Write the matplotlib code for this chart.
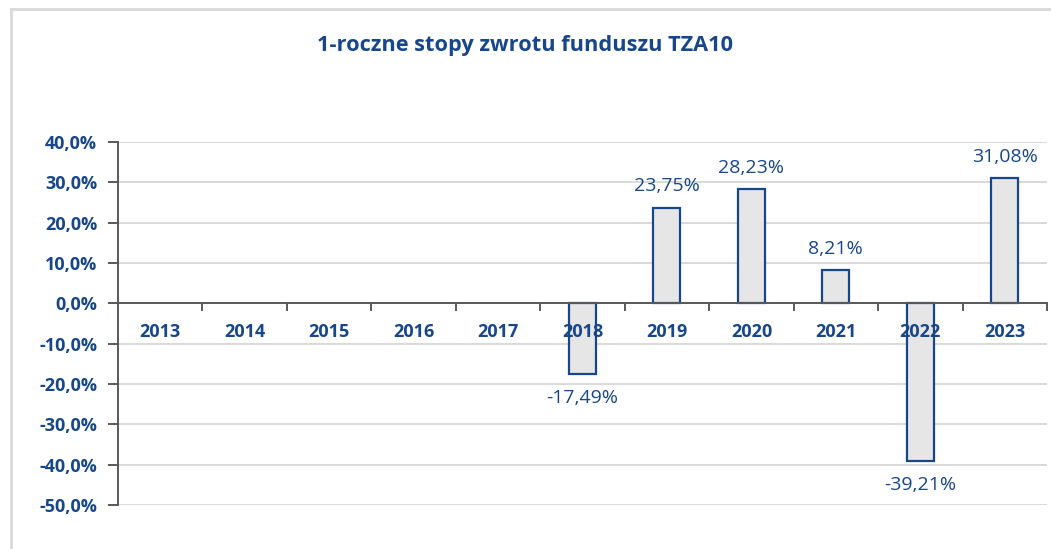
import numpy as np
import matplotlib.pyplot as plt
from matplotlib.lines import Line2D

# --- data ---
years = ['2013', '2014', '2015', '2016', '2017', '2018', '2019', '2020', '2021', '2022', '2023']
returns = [np.nan, np.nan, np.nan, np.nan, np.nan, -17.49, 23.75, 28.23, 8.21, -39.21, 31.08]
y_ticks = [40, 30, 20, 10, 0, -10, -20, -30, -40, -50]

BLUE = '#17468A'
plt.rcParams['font.family'] = ['Open Sans', 'DejaVu Sans']

fig = plt.figure(figsize=(10.51, 5.49), dpi=100)
ax = fig.add_axes([118 / 1051, 1 - 505 / 549, (1047 - 118) / 1051, (505 - 142) / 549])

x = np.arange(len(years))
vals = np.array(returns, dtype=float)
has = ~np.isnan(vals)
ax.bar(x[has], vals[has], width=0.32, color='#E6E6E6', edgecolor=BLUE, linewidth=1.6, zorder=3)

ax.set_xlim(-0.5, len(years) - 0.5)
ax.set_ylim(-50, 40)

# gridlines
ax.set_yticks(y_ticks)
ax.yaxis.grid(True, color='#D9D9D9', linewidth=1.4, zorder=0)
ax.set_yticklabels([f'{t:.1f}%'.replace('.', ',') for t in y_ticks],
                   fontsize=13, fontweight='bold', color=BLUE)
ax.tick_params(axis='y', length=7, width=1.4, color='#595959', pad=8)

# x axis at zero with ticks at category boundaries
ax.set_xticks([])
for s in ['top', 'right', 'bottom']:
    ax.spines[s].set_visible(False)
ax.spines['left'].set_color('#595959')
ax.spines['left'].set_linewidth(1.4)
ax.axhline(0, color='#595959', linewidth=1.4, zorder=4)
for b in np.arange(0.5, len(years) - 0.4, 1.0):
    ax.plot([b, b], [0, -1.7], color='#595959', linewidth=1.4, zorder=4, clip_on=False)

for xi, yr in zip(x, years):
    ax.text(xi, -7, yr, ha='center', va='center', fontsize=13, fontweight='bold', color=BLUE, zorder=5)

# data labels
for xi, v in zip(x, vals):
    if np.isnan(v):
        continue
    lbl = f'{v:.2f}%'.replace('.', ',')
    if v >= 0:
        ax.text(xi, v + 3, lbl, ha='center', va='bottom', fontsize=14, color=BLUE, zorder=5)
    else:
        ax.text(xi, v - 3.7, lbl, ha='center', va='top', fontsize=14, color=BLUE, zorder=5)

fig.text(525 / 1051, 1 - 46 / 549, '1-roczne stopy zwrotu funduszu TZA10',
         ha='center', va='center', fontsize=15.7, fontweight='bold', color=BLUE)

# outer chart frame (partially visible)
fig.add_artist(Line2D([11 / 1051, 11 / 1051], [0, 1 - 9 / 549], transform=fig.transFigure,
                      color='#D9D9D9', linewidth=2))
fig.add_artist(Line2D([11 / 1051, 1], [1 - 9 / 549, 1 - 9 / 549], transform=fig.transFigure,
                      color='#D9D9D9', linewidth=2))

fig.savefig('out.png', dpi=100)
